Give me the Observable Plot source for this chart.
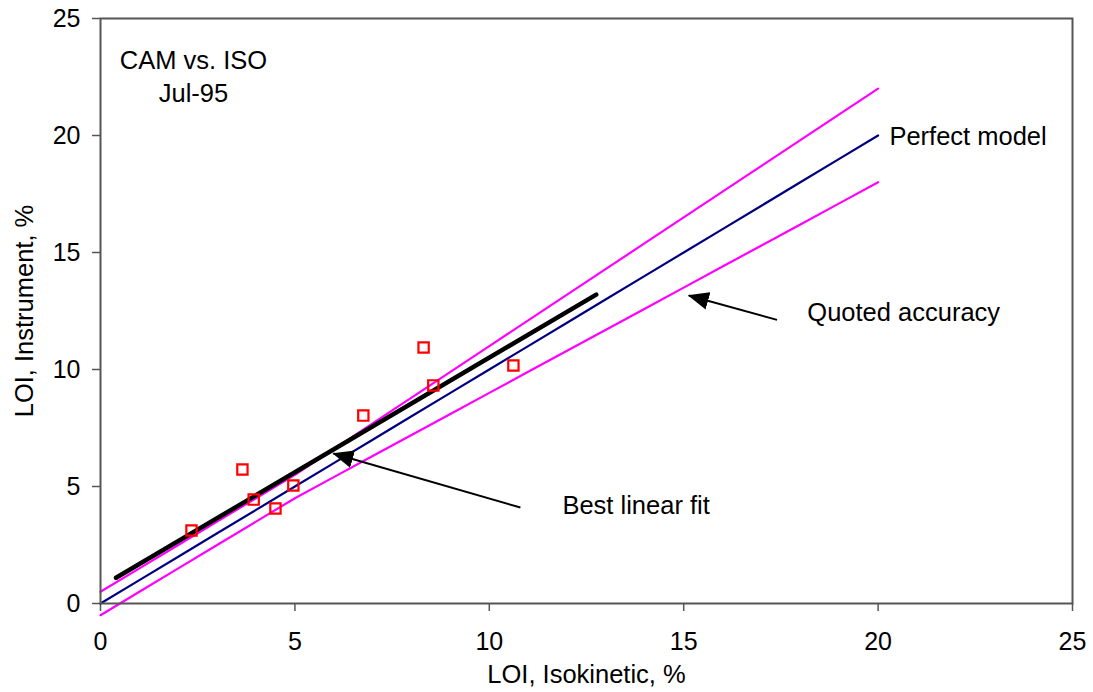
<!DOCTYPE html>
<html>
<head>
<meta charset="utf-8">
<script src="https://cdn.jsdelivr.net/npm/d3@7"></script>
<script src="https://cdn.jsdelivr.net/npm/@observablehq/plot@0.6"></script>
<style>
  html, body { margin: 0; padding: 0; background: #fff; }
  #chart { width: 1093px; height: 692px; }
</style>
</head>
<body>
<div id="chart"></div>
<script>
// Measured points: LOI isokinetic vs instrument (%)
const isoX = [2.34, 3.65, 3.94, 4.50, 4.96, 6.76, 8.31, 8.56, 10.62];
const instY = [3.12, 5.73, 4.44, 4.06, 5.04, 8.03, 10.94, 9.32, 10.17];

// Perfect model and quoted accuracy band
const modelX = [0, 1, 2, 3, 4, 5, 6, 7, 8, 9, 10, 11, 12, 13, 14, 15, 16, 17, 18, 19, 20];
const perfectY = [0, 1, 2, 3, 4, 5, 6, 7, 8, 9, 10, 11, 12, 13, 14, 15, 16, 17, 18, 19, 20];
const upperY = [0.5, 1.5, 2.5, 3.5, 4.5, 5.5, 6.6, 7.7, 8.8, 9.9, 11, 12.1, 13.2, 14.3, 15.4, 16.5, 17.6, 18.7, 19.8, 20.9, 22];
const lowerY = [-0.5, 0.5, 1.5, 2.5, 3.5, 4.5, 5.4, 6.3, 7.2, 8.1, 9, 9.9, 10.8, 11.7, 12.6, 13.5, 14.4, 15.3, 16.2, 17.1, 18];

// Best linear fit end points
const fitX = [0.4, 12.75];
const fitY = [1.1, 13.2];

const xTicks = [0, 5, 10, 15, 20, 25];
const yTicks = [0, 5, 10, 15, 20, 25];

const points = isoX.map((x, i) => ({x, y: instY[i]}));
const model = modelX.map((x, i) => ({x, perfect: perfectY[i], upper: upperY[i], lower: lowerY[i]}));
const fit = fitX.map((x, i) => ({x, y: fitY[i]}));

const arrows = [
  {x1: 10.80, y1: 4.10, x2: 5.99, y2: 6.41},
  {x1: 17.40, y1: 12.12, x2: 15.13, y2: 13.16}
];

const FONT = "'Liberation Sans', Arial, sans-serif";

const plot = Plot.plot({
  width: 1093,
  height: 692,
  marginLeft: 100,
  marginRight: 21,
  marginTop: 18,
  marginBottom: 89,
  style: {fontFamily: FONT, fontSize: "25px", background: "#fff", color: "black"},
  x: {domain: [0, 25]},
  y: {domain: [0, 25]},
  marks: [
    Plot.axisX({ticks: xTicks, tickSize: 8, tickPadding: 21, fontSize: 25, stroke: "#555", strokeWidth: 1.5, fill: "black", label: null, tickFormat: d => String(d)}),
    Plot.axisY({ticks: yTicks, tickSize: 8, tickPadding: 12, fontSize: 25, stroke: "#555", strokeWidth: 1.5, fill: "black", label: null, tickFormat: d => String(d)}),
    Plot.line(model, {x: "x", y: "upper", stroke: "#FF00FF", strokeWidth: 2.2}),
    Plot.line(model, {x: "x", y: "lower", stroke: "#FF00FF", strokeWidth: 2.2}),
    Plot.line(model, {x: "x", y: "perfect", stroke: "#000080", strokeWidth: 2.2}),
    Plot.line(fit, {x: "x", y: "y", stroke: "black", strokeWidth: 4.5}),
    Plot.dot(points, {x: "x", y: "y", symbol: "square", r: 5.8, stroke: "#FF0000", strokeWidth: 2.2, fill: "none"}),
    Plot.link(arrows, {x1: "x1", y1: "y1", x2: "x2", y2: "y2", stroke: "black", strokeWidth: 2}),
    Plot.frame({stroke: "#555", strokeWidth: 2}),
    Plot.text(["CAM vs. ISO"], {x: 2.39, y: 23.2, text: d => d, textAnchor: "middle", fontSize: 25.5, fill: "black"}),
    Plot.text(["Jul-95"], {x: 2.39, y: 21.8, text: d => d, textAnchor: "middle", fontSize: 25.5, fill: "black"}),
    Plot.text(["Perfect model"], {x: 20.29, y: 19.96, text: d => d, textAnchor: "start", fontSize: 25.5, fill: "black"}),
    Plot.text(["Quoted accuracy"], {x: 18.18, y: 12.44, text: d => d, textAnchor: "start", fontSize: 25.5, fill: "black"}),
    Plot.text(["Best linear fit"], {x: 11.88, y: 4.19, text: d => d, textAnchor: "start", fontSize: 25.5, fill: "black"}),
    Plot.text(["LOI, Isokinetic, %"], {frameAnchor: "bottom", dy: 71, lineAnchor: "middle", textAnchor: "middle", text: d => d, fontSize: 25.5, fill: "black"}),
    Plot.text(["LOI, Instrument, %"], {frameAnchor: "left", dx: -76, rotate: -90, lineAnchor: "middle", textAnchor: "middle", text: d => d, fontSize: 25.5, fill: "black"})
  ]
});

// filled arrowheads
const svg = d3.select(plot);
const defs = svg.insert("defs", ":first-child");
defs.append("marker")
  .attr("id", "ahead")
  .attr("viewBox", "0 0 21 18")
  .attr("refX", 20)
  .attr("refY", 9)
  .attr("markerWidth", 21)
  .attr("markerHeight", 18)
  .attr("markerUnits", "userSpaceOnUse")
  .attr("orient", "auto")
  .append("path")
  .attr("d", "M0,0L21,9L0,18Z")
  .attr("fill", "black");
svg.selectAll('g[aria-label="link"] path, g[aria-label="link"] line').attr("marker-end", "url(#ahead)");

document.getElementById("chart").appendChild(plot);
</script>
</body>
</html>
